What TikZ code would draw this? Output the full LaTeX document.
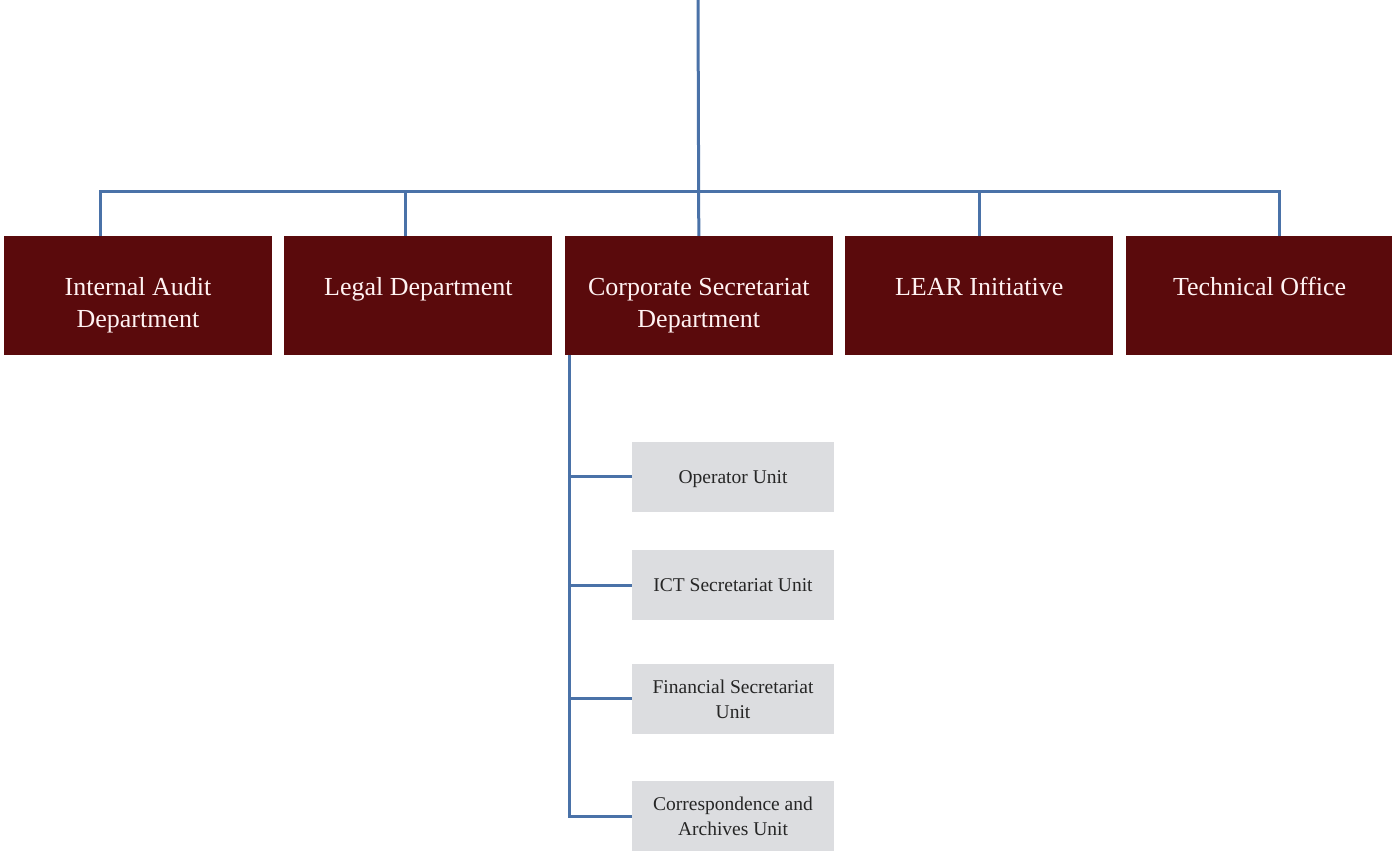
\documentclass[tikz,border=0pt]{standalone}
\usepackage{fontspec}
\setmainfont{Liberation Serif}
\usetikzlibrary{positioning}
\usepackage{xcolor}
\definecolor{deptred}{HTML}{5A0A0C}
\definecolor{unitgrey}{HTML}{DCDDE0}
\definecolor{linkblue}{HTML}{4A72A8}
% department names hang from their first line
\newcommand{\deptname}[1]{\begin{tabular}[t]{@{}c@{}}#1\end{tabular}}

\begin{document}
\begin{tikzpicture}[
  x=1pt, y=1pt,
  node distance=38pt and 12pt,
  dept/.style={fill=deptred, text=white!95!red, minimum width=268pt, minimum height=119pt,
               inner sep=0pt, text height=20pt, text depth=19pt, font=\fontsize{26}{32}\selectfont},
  unit/.style={fill=unitgrey, text=black!85, align=center, minimum width=202pt, minimum height=70pt,
               inner sep=0pt, text depth=-8pt, font=\fontsize{19.5}{25}\selectfont},
  link/.style={draw=linkblue, line width=3pt},
]
  \useasboundingbox (0,0) rectangle (1392,851);

  % Departments row
  \node[dept] (audit) at (138,555.5) {\deptname{Internal Audit\\Department}};
  \node[dept, right=of audit] (legal) {\deptname{Legal Department}};
  \node[dept, right=of legal] (corpsec) {\deptname{Corporate Secretariat\\Department}};
  \node[dept, right=of corpsec] (lear) {\deptname{LEAR Initiative}};
  \node[dept, right=of lear] (techoff) {\deptname{Technical Office}};

  % Line from the top and the bar
  \coordinate (top) at (698,851);
  \draw[link] (top) -- (corpsec.north);
  \draw[link] ([xshift=-38pt]audit.north) -- ++(0,44) -| ([xshift=20pt]techoff.north);
  \draw[link] ([xshift=-13pt]legal.north) -- ++(0,44);
  \draw[link] (lear.north) -- ++(0,44);

  % Units under the Corporate Secretariat
  \node[unit] (operator) at (733,374) {Operator Unit};
  \node[unit, below=of operator] (ict) {ICT Secretariat Unit};
  \node[unit, below=43pt of ict] (finsec) {Financial Secretariat\\Unit};
  \node[unit, below=47pt of finsec] (archives) {Correspondence and\\Archives Unit};

  \coordinate (spine) at ([xshift=5pt]corpsec.south west);
  \draw[link] (spine) |- (archives.west);
  \draw[link] (spine |- operator.west) -- (operator.west);
  \draw[link] (spine |- ict.west) -- (ict.west);
  \draw[link] (spine |- finsec.west) -- (finsec.west);
\end{tikzpicture}
\end{document}
